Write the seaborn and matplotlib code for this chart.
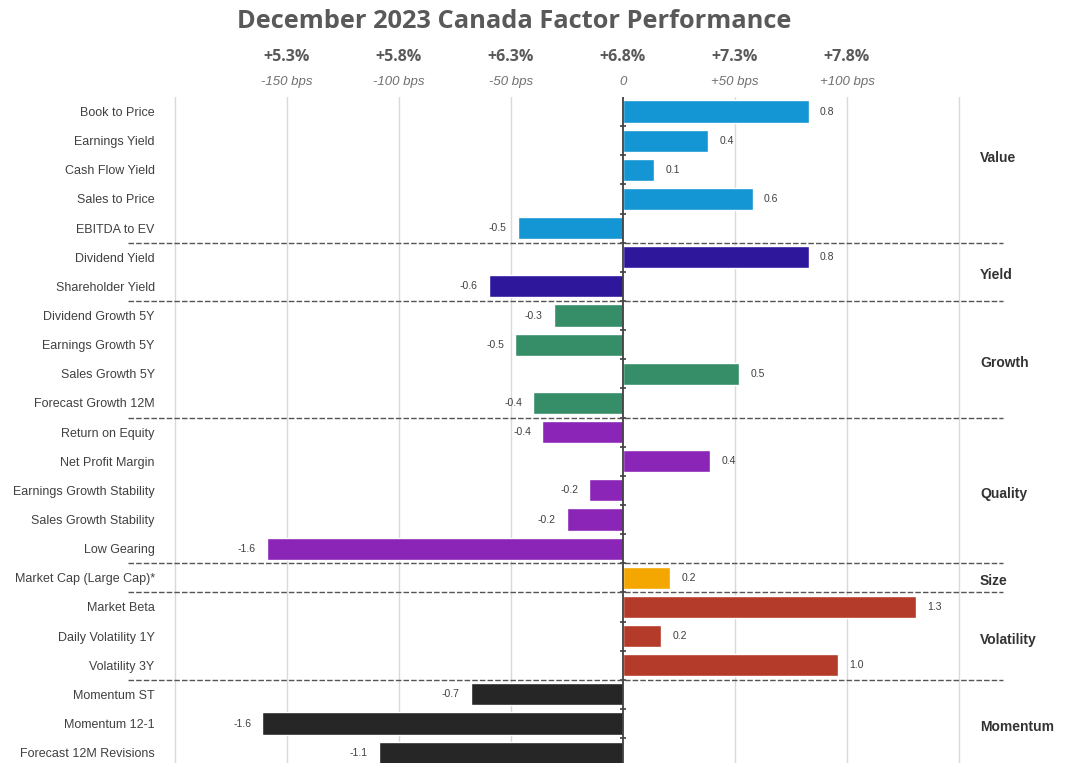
import matplotlib
matplotlib.use("Agg")
import matplotlib.pyplot as plt
import matplotlib.transforms as mtransforms
import seaborn as sns
import pandas as pd
import numpy as np

factors = ["Book to Price", "Earnings Yield", "Cash Flow Yield", "Sales to Price", "EBITDA to EV",
           "Dividend Yield", "Shareholder Yield",
           "Dividend Growth 5Y", "Earnings Growth 5Y", "Sales Growth 5Y", "Forecast Growth 12M",
           "Return on Equity", "Net Profit Margin", "Earnings Growth Stability", "Sales Growth Stability", "Low Gearing",
           "Market Cap (Large Cap)*",
           "Market Beta", "Daily Volatility 1Y", "Volatility 3Y",
           "Momentum ST", "Momentum 12-1", "Forecast 12M Revisions"]
groups = ["Value"] * 5 + ["Yield"] * 2 + ["Growth"] * 4 + ["Quality"] * 5 + ["Size"] + ["Volatility"] * 3 + ["Momentum"] * 3
values = [0.83, 0.38, 0.14, 0.58, -0.47,
          0.83, -0.60,
          -0.31, -0.48, 0.52, -0.40,
          -0.36, 0.39, -0.15, -0.25, -1.59,
          0.21,
          1.31, 0.17, 0.96,
          -0.68, -1.61, -1.09]
labels = ["0.8", "0.4", "0.1", "0.6", "-0.5",
          "0.8", "-0.6",
          "-0.3", "-0.5", "0.5", "-0.4",
          "-0.4", "0.4", "-0.2", "-0.2", "-1.6",
          "0.2",
          "1.3", "0.2", "1.0",
          "-0.7", "-1.6", "-1.1"]
group_names = ["Value", "Yield", "Growth", "Quality", "Size", "Volatility", "Momentum"]
group_colors = ["#1396D3", "#2F179B", "#358E68", "#8A25B8", "#F4A700", "#B43A29", "#262626"]
top_ticks = [-1.5, -1.0, -0.5, 0.0, 0.5, 1.0]
top_pct = ["+5.3%", "+5.8%", "+6.3%", "+6.8%", "+7.3%", "+7.8%"]
top_bps = ["-150 bps", "-100 bps", "-50 bps", "0", "+50 bps", "+100 bps"]
grid_ticks = [-2.0, -1.5, -1.0, -0.5, 0.5, 1.0, 1.5]

df = pd.DataFrame({"factor": factors, "group": groups, "value": values, "label": labels})

sns.set_theme(style="white")
plt.rcParams["font.family"] = ["Liberation Sans", "DejaVu Sans"]

W, H = 1069, 763
fig = plt.figure(figsize=(W / 100, H / 100), dpi=100)
ax_l, ax_r, ax_t, ax_b = 163, 1003, 97, 763
ax = fig.add_axes([ax_l / W, 1 - ax_b / H, (ax_r - ax_l) / W, (ax_b - ax_t) / H])

zero_px, ppu = 623, 224.0
ax.set_xlim((ax_l - zero_px) / ppu, (ax_r - zero_px) / ppu)
n = len(factors)
row_px = 29.14
ylim = (-0.5 + (ax_b - ax_t) / row_px, -0.5)

for g in grid_ticks:
    ax.axvline(g, color="#d9d9d9", lw=1, zorder=0)

palette = dict(zip(group_names, group_colors))
sns.barplot(data=df, x="value", y="factor", hue="group", palette=palette, dodge=False,
            legend=False, width=0.76, ax=ax, orient="h", saturation=1, zorder=2)
ax.set_ylim(*ylim)

ax.axvline(0, color="#404040", lw=1.3, zorder=3)
ax.plot(np.zeros(n), np.arange(n) + 0.5, linestyle="none", marker="_", color="#404040",
        markersize=5, mew=1.2, zorder=3, clip_on=False)

for i, (v, lab) in enumerate(zip(values, labels)):
    off = 0.05
    if v >= 0:
        ax.text(v + off, i, lab, ha="left", va="center", fontsize=7.5, color="#404040")
    else:
        ax.text(v - off, i, lab, ha="right", va="center", fontsize=7.5, color="#404040")

# group separators and labels
trans = mtransforms.blended_transform_factory(ax.transAxes, ax.transData)
sep_x0 = (128 - ax_l) / (ax_r - ax_l)
label_shift = {"Value": -0.4}
start = 0
for gname in group_names:
    cnt = groups.count(gname)
    center = start + (cnt - 1) / 2 + label_shift.get(gname, 0.12)
    ax.text((980 - zero_px) / ppu, center, gname, ha="left", va="center", fontsize=10,
            fontweight="bold", color="#333333")
    end = start + cnt
    if end < n:
        ax.plot([sep_x0, 1.0], [end - 0.5, end - 0.5], transform=trans, color="#555555",
                lw=1, dashes=(4, 1.5), clip_on=False, zorder=4)
    start = end

ax.set_yticks(range(n))
ax.set_yticklabels(factors, fontsize=9, color="#404040")
ax.tick_params(axis="y", length=0, pad=6)
ax.set_xticks([])
ax.set_xlabel("")
ax.set_ylabel("")
for s in ax.spines.values():
    s.set_visible(False)

# top labels
ttrans = mtransforms.blended_transform_factory(ax.transData, fig.transFigure)
for t, p, b in zip(top_ticks, top_pct, top_bps):
    ax.text(t, 1 - 57 / H, p, transform=ttrans, ha="center", va="center", fontsize=11.5,
            fontweight="bold", color="#595959", family=["Open Sans", "DejaVu Sans"])
    ax.text(t, 1 - 82 / H, b, transform=ttrans, ha="center", va="center", fontsize=9.5,
            style="italic", color="#707070")

fig.text(514 / W, 1 - 22 / H, "December 2023 Canada Factor Performance", ha="center", va="center",
         fontsize=18.3, fontweight="bold", color="#595959", family=["Open Sans", "DejaVu Sans"])

fig.savefig("out.png", dpi=100)
